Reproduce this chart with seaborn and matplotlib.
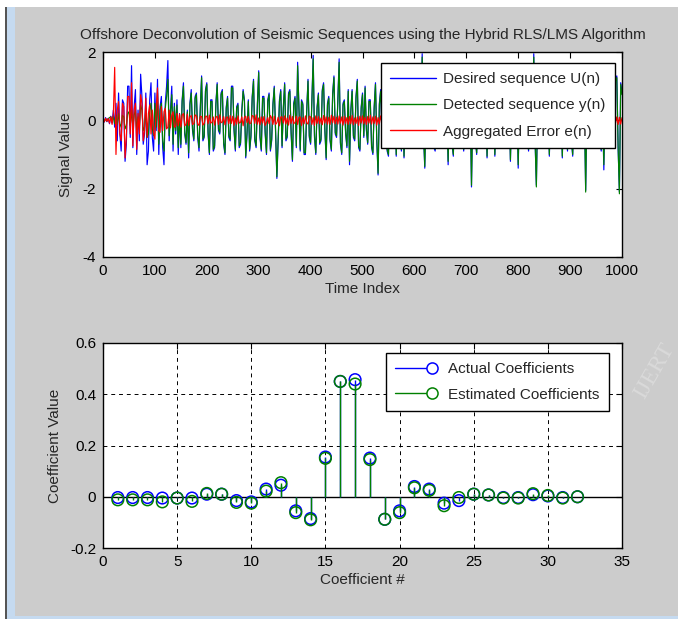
import numpy as np
import pandas as pd
import matplotlib
matplotlib.use("Agg")
import matplotlib.pyplot as plt
import matplotlib.font_manager as fm
from matplotlib.lines import Line2D
from matplotlib.legend_handler import HandlerBase
from matplotlib.patches import Rectangle
import seaborn as sns

# ---------------- data ----------------
time_step = 2.5
desired_u = [
    0.03, -0.05, 0.08, -0.04, 0.06, -0.1, 0.12, -0.08, 0.3, -0.2, 0.5, -0.6, 0.8, -0.4, -0.9, 0.6, 0.5, -1.2, -0.7, 1.0,
    1.0, -0.5, 1.6, -0.8, 0.4, 0.9, -1.0, 0.3, -0.6, 1.35, 0.7, -0.7, -0.4, 0.8, -1.3, -0.9, 0.6, 1.1, -0.5, -0.9,
    0.8, -0.3, 1.2, -1.0, 0.4, 0.7, -0.8, -1.3, 0.5, 1.0, 1.75, -0.6, 0.3, 1.0, -0.9, 0.5, -0.4, 0.6, -1.0, 0.2,
    -0.8, 0.6, 1.1, -0.4, -0.7, 0.3, -1.1, 0.5, 0.9, -0.3, -0.6, 0.7, 0.8, -0.5, -0.9, 0.4, 1.3, -0.6, -0.5, 0.9,
    1.1, -0.4, -1.0, 0.6, 0.6, -0.9, -0.8, 0.5, 1.1, -0.3, -0.4, 0.8, 0.9, -0.7, -1.0, 0.4, 0.7, -0.5, -0.6, 1.0,
    1.0, -0.3, -0.9, 0.4, 0.5, -0.8, -0.7, 0.3, 0.9, 0.6, -1.1, -0.4, 0.6, -0.9, -0.5, 0.7, 1.2, -0.6, -0.8, 0.5,
    1.45, -0.5, -0.9, 0.7, 0.7, -0.4, -1.0, 0.6, 0.8, -0.9, -0.6, 0.5, 1.0, -0.3, -1.7, -0.6, 0.6, 0.9, -0.8, 0.4,
    1.1, -0.6, -0.5, 0.8, 0.9, -0.4, -1.2, 0.5, 0.7, -0.8, 1.7, 0.4, -0.9, 0.6, 0.5, -1.0, -1.0, 0.3, 1.2, -0.5,
    -0.7, 0.6, 1.9, -0.5, -1.0, 0.4, 0.8, -0.7, -0.6, 0.9, 1.1, -0.3, -1.15, 0.5, 0.7, -0.6, -0.9, 0.8, 1.3, -0.4,
    -0.5, 0.6, 1.8, -0.7, -1.0, 0.5, 0.6, -0.4, -0.8, 0.9, -1.3, 0.3, 0.9, -0.5, -0.6, 0.7, 1.2, -0.8, -0.9, 0.4,
    0.8, -0.5, 1.0, -0.3, -0.7, 0.6, 0.6, -0.8, -1.0, 0.4, 1.1, -0.6, -1.6, 0.5, 0.9, -0.4, -0.7, 0.8, 1.2, -0.9,
    -1.05, 0.6, 0.8, -0.4, -0.6, 0.7, -1.05, 0.3, 1.0, -0.5, -0.9, 0.6, -1.1, 0.4, 0.7, -0.6, 1.3, -0.5, -0.8, 0.6,
    0.9, -0.5, -0.7, 0.4, 1.2, -0.6, 1.95, -0.4, -1.4, 0.5, 0.8, -0.3, -0.6, 0.7, 1.1, -0.8, -0.9, 0.5, 0.7, -0.4,
    -0.8, 0.6, 1.0, -0.5, -0.7, 0.4, -1.3, 0.6, 1.2, -0.7, -1.05, 0.5, 0.8, -0.6, -0.6, 0.7, 1.1, -0.5, -0.9, 0.6,
    0.7, -0.5, -0.8, 0.6, -1.95, 0.4, 1.0, -0.6, -1.0, 0.5, 0.8, -0.4, 1.2, -0.6, -0.7, 0.5, -1.1, 0.6, 0.9, -0.5,
    -0.6, 0.5, -1.05, 0.4, 1.1, -0.6, -0.8, 0.5, 0.6, -0.4, 1.0, -0.5, -0.7, 0.6, -1.2, 0.4, 0.9, -0.6, -0.8, 0.5,
    -1.4, 0.6, 1.1, -0.5, -0.7, 0.4, 0.8, -0.6, -0.9, 0.5, 1.2, -0.4, 1.95, -0.6, -1.9, 0.5, 0.7, -0.4, -0.6, 0.5,
    1.0, -0.5, -0.8, 0.6, -1.05, 0.4, 0.9, -0.6, -0.7, 0.5, 1.1, -0.4, -0.6, 0.5, -1.1, 0.6, 0.8, -0.5, -0.9, 0.4,
    1.0, -0.6, -1.05, 0.5, 0.7, -0.4, -0.8, 0.6, 1.2, -0.5, -0.6, 0.4, -2.05, 0.6, 0.9, -0.5, -0.7, 0.6, 1.1, -0.4,
    -0.8, 0.5, 0.6, -0.6, -0.9, 0.4, -1.45, 0.6, 1.0, -0.5, -0.7, 0.6, 0.9, -0.5, -0.6, 1.2, 1.3, -0.8, -2.1, 1.1,
    0.8,
]
detected_y = [
    0.02, -0.03, 0.05, -0.02, 0.04, 0.08, 0.1, -0.05, 0.12, -0.1, 0.15, -0.12, 0.2, -0.1, -0.2, 0.15, 0.1, -0.25, -0.15, 0.2,
    0.25, -0.15, 0.3, -0.2, 0.15, 0.3, -0.3, 0.1, -0.2, 0.45, 0.3, -0.3, -0.2, 0.35, -0.5, -0.4, 0.3, 0.5, -0.25, -0.45,
    0.5, -0.2, 0.8, -0.7, 0.3, 0.5, -0.6, -0.9, 0.35, 0.7, 1.2, -0.45, 0.2, 0.75, -0.7, 0.4, -0.3, 0.45, -0.8, 0.15,
    -0.7, 0.55, 1.0, -0.35, -0.65, 0.25, -0.95, 0.45, 0.8, -0.25, -0.55, 0.65, 0.75, -0.45, -0.8, 0.35, 1.25, -0.55, -0.45, 0.85,
    1.05, -0.35, -0.95, 0.55, 0.55, -0.85, -0.75, 0.45, 1.05, -0.25, -0.35, 0.75, 0.85, -0.65, -0.95, 0.35, 0.65, -0.45, -0.55, 0.95,
    0.95, -0.25, -0.85, 0.35, 0.45, -0.75, -0.65, 0.25, 0.85, 0.55, -1.05, -0.35, 0.55, -0.85, -0.45, 0.65, 1.15, -0.55, -0.75, 0.45,
    1.4, -0.45, -0.85, 0.65, 0.65, -0.35, -0.95, 0.55, 0.75, -0.85, -0.55, 0.45, 0.95, -0.25, -1.65, -0.55, 0.55, 0.85, -0.75, 0.35,
    1.05, -0.55, -0.45, 0.75, 0.85, -0.35, -1.15, 0.45, 0.65, -0.75, 1.6, 0.35, -0.85, 0.55, 0.45, -0.95, -0.95, 0.25, 1.15, -0.45,
    -0.65, 0.55, 1.8, -0.45, -0.95, 0.35, 0.75, -0.65, -0.55, 0.85, 1.05, -0.25, -1.1, 0.45, 0.65, -0.55, -0.85, 0.75, 1.25, -0.35,
    -0.45, 0.55, 1.7, -0.65, -0.95, 0.45, 0.55, -0.35, -0.75, 0.85, -1.2, 0.25, 0.85, -0.45, -0.55, 0.65, 1.15, -0.75, -0.85, 0.35,
    0.75, -0.45, 0.95, -0.25, -0.65, 0.55, 0.55, -0.75, -0.95, 0.35, 1.05, -0.55, -1.55, 0.45, 0.85, -0.35, -0.65, 0.75, 1.15, -0.85,
    -1.0, 0.55, 0.75, -0.35, -0.55, 0.65, -1.0, 0.25, 0.95, -0.45, -0.85, 0.55, -1.05, 0.35, 0.65, -0.55, 1.25, -0.45, -0.75, 0.55,
    0.85, -0.45, -0.65, 0.35, 1.15, -0.55, 1.85, -0.35, -1.35, 0.45, 0.75, -0.25, -0.55, 0.65, 1.05, -0.75, -0.85, 0.45, 0.65, -0.35,
    -0.75, 0.55, 0.95, -0.45, -0.65, 0.35, -1.2, 0.55, 1.15, -0.65, -1.0, 0.45, 0.75, -0.55, -0.55, 0.65, 1.05, -0.45, -0.85, 0.55,
    0.65, -0.45, -0.75, 0.55, -1.9, 0.35, 0.95, -0.55, -0.95, 0.45, 0.75, -0.35, 1.15, -0.55, -0.65, 0.45, -1.05, 0.55, 0.85, -0.45,
    -0.55, 0.45, -1.0, 0.35, 1.05, -0.55, -0.75, 0.45, 0.55, -0.35, 0.95, -0.45, -0.65, 0.55, -1.15, 0.35, 0.85, -0.55, -0.75, 0.45,
    -1.3, 0.55, 1.05, -0.45, -0.65, 0.35, 0.75, -0.55, -0.85, 0.45, 1.15, -0.35, 1.85, -0.55, -1.95, 0.45, 0.65, -0.35, -0.55, 0.45,
    0.95, -0.45, -0.75, 0.55, -1.0, 0.35, 0.85, -0.55, -0.65, 0.45, 1.05, -0.35, -0.55, 0.45, -1.05, 0.55, 0.75, -0.45, -0.85, 0.35,
    0.95, -0.55, -1.0, 0.45, 0.65, -0.35, -0.75, 0.55, 1.15, -0.45, -0.55, 0.35, -2.1, 0.55, 0.85, -0.45, -0.65, 0.55, 1.05, -0.35,
    -0.75, 0.45, 0.55, -0.55, -0.85, 0.35, -1.3, 0.55, 0.95, -0.45, -0.65, 0.55, 0.85, -0.45, -0.55, 1.15, 1.25, -0.75, -2.15, 1.05,
    0.75,
]
error_e = [
    0.02, -0.04, 0.06, -0.03, 0.05, -0.08, 0.1, -0.12, 0.2, 1.55, -1.0, 0.3, 0.55, -0.4, -0.6, 0.5, 0.4, -1.1, -0.5, 0.7,
    0.7, -0.4, 1.1, -0.75, 0.3, 0.5, -0.85, 0.2, -0.4, 0.75, 0.5, -0.6, -0.3, 0.65, -0.5, 0.2, 0.45, -0.4, 0.3, -0.35,
    -0.55, 0.3, 0.95, -0.3, -0.35, 0.4, -0.3, 0.25, 0.35, -0.25, -0.2, 0.3, -0.22, 0.15, 0.25, -0.2, -0.18, 0.2, -0.16, 0.18,
    -0.2, 0.15, 0.2, -0.16, -0.12, 0.18, -0.15, 0.1, 0.14, -0.12, -0.1, 0.16, 0.13, -0.11, -0.15, 0.12, 0.11, -0.14, -0.09, 0.12,
    0.12, -0.1, 0.15, -0.08, -0.06, 0.1, -0.14, 0.09, 0.12, -0.12, 0.16, -0.07, -0.05, 0.11, -0.13, 0.08, 0.1, -0.1, 0.14, -0.09,
    0.12, -0.15, 0.07, -0.11, 0.13, -0.08, -0.06, 0.1, -0.16, 0.09, 0.12, -0.07, 0.11, -0.1, -0.08, 0.14, 0.12, -0.09, 0.16, -0.11,
    0.07, -0.13, 0.1, -0.08, 0.11, -0.15, -0.06, 0.08, -0.1, 0.14, 0.07, -0.12, 0.12, -0.12, -0.07, 0.09, -0.16, 0.1, 0.1, -0.08,
    0.13, -0.11, 0.07, -0.14, 0.15, -0.09, 0.11, -0.1, -0.06, 0.12, -0.12, 0.09, 0.1, -0.15, 0.08, -0.1, 0.13, -0.07, -0.11, 0.12,
    0.1, -0.12, 0.08, -0.15, 0.13, -0.09, 0.11, -0.1, 0.07, -0.13, 0.14, -0.08, 0.1, -0.11, 0.09, -0.12, 0.15, -0.07, 0.12, -0.1,
    0.09, -0.11, 0.13, -0.08, 0.1, -0.14, 0.12, -0.09, 0.08, -0.12, 0.11, -0.1, 0.14, -0.13, 0.07, -0.09, 0.1, -0.15, 0.12, -0.08,
    0.13, -0.1, 0.09, -0.12, 0.11, -0.08, 0.15, -0.11, 0.1, -0.09, 0.12, -0.14, 0.08, -0.1, 0.13, -0.07, 0.11, -0.12, 0.09, -0.1,
    0.1, -0.13, 0.12, -0.08, 0.14, -0.1, 0.09, -0.11, 0.13, -0.09, 0.08, -0.12, 0.11, -0.1, 0.15, -0.08, 0.1, -0.12, 0.09, -0.11,
    0.12, -0.1, 0.15, -0.08, -0.06, 0.1, -0.14, 0.09, 0.12, -0.12, 0.16, -0.07, -0.05, 0.11, -0.13, 0.08, 0.1, -0.1, 0.14, -0.09,
    0.12, -0.15, 0.07, -0.11, 0.13, -0.08, -0.06, 0.1, -0.16, 0.09, 0.12, -0.07, 0.11, -0.1, -0.08, 0.14, 0.12, -0.09, 0.16, -0.11,
    0.07, -0.13, 0.1, -0.08, 0.11, -0.15, -0.06, 0.08, -0.1, 0.14, 0.07, -0.12, 0.12, -0.12, -0.07, 0.09, -0.16, 0.1, 0.1, -0.08,
    0.13, -0.11, 0.07, -0.14, 0.15, -0.09, 0.11, -0.1, -0.06, 0.12, -0.12, 0.09, 0.1, -0.15, 0.08, -0.1, 0.13, -0.07, -0.11, 0.12,
    0.1, -0.12, 0.08, -0.15, 0.13, -0.09, 0.11, -0.1, 0.07, -0.13, 0.14, -0.08, 0.1, -0.11, 0.09, -0.12, 0.15, -0.07, 0.12, -0.1,
    0.09, -0.11, 0.13, -0.08, 0.1, -0.14, 0.12, -0.09, 0.08, -0.12, 0.11, -0.1, 0.14, -0.13, 0.07, -0.09, 0.1, -0.15, 0.12, -0.08,
    0.13, -0.1, 0.09, -0.12, 0.11, -0.08, 0.15, -0.11, 0.1, -0.09, 0.12, -0.14, 0.08, -0.1, 0.13, -0.07, 0.11, -0.12, 0.09, -0.1,
    0.1, -0.13, 0.12, -0.08, 0.14, -0.1, 0.09, -0.11, 0.13, -0.09, 0.08, -0.12, 0.11, -0.1, 0.15, -0.08, 0.1, -0.12, 0.09, -0.11,
    0.08,
]
series_labels = ["Desired sequence U(n)", "Detected sequence y(n)", "Aggregated Error e(n)"]

coef_index = list(range(1, 33))
actual_coef = [-0.003, -0.003, -0.003, -0.005, -0.005, -0.005, 0.010, 0.010, -0.015, -0.020,
               0.030, 0.045, -0.055, -0.085, 0.155, 0.450, 0.457, 0.151, -0.088, -0.055,
               0.040, 0.030, -0.025, -0.015, 0.010, 0.007, -0.003, -0.003, 0.008, 0.003,
               -0.003, 0.000]
estimated_coef = [-0.012, -0.012, -0.012, -0.020, -0.005, -0.018, 0.013, 0.010, -0.022, -0.025,
                  0.022, 0.055, -0.062, -0.090, 0.150, 0.450, 0.440, 0.145, -0.088, -0.062,
                  0.035, 0.025, -0.035, -0.003, 0.010, 0.007, -0.005, -0.005, 0.012, 0.005,
                  -0.005, 0.000]
coef_labels = ["Actual Coefficients", "Estimated Coefficients"]

top_xticks = [0, 100, 200, 300, 400, 500, 600, 700, 800, 900, 1000]
top_yticks = [-4, -2, 0, 2]
top_yticklabels = ["-4", "-2", "0", "2"]
bot_xticks = [0, 5, 10, 15, 20, 25, 30, 35]
bot_yticks = [-0.2, 0, 0.2, 0.4, 0.6]
bot_yticklabels = ["-0.2", "0", "0.2", "0.4", "0.6"]

assert len(desired_u) == len(detected_y) == len(error_e)

# ---------------- style ----------------
sns.set_style("white")
names = {f.name for f in fm.fontManager.ttflist}
if "Liberation Sans Narrow" in names:
    FAM, FS = "Liberation Sans Narrow", 12.5
else:
    FAM, FS = "Liberation Sans", 11
plt.rcParams["font.family"] = [FAM, "DejaVu Sans"]
plt.rcParams["axes.unicode_minus"] = False

BLUE, GREEN, RED = "#0000ff", "#008000", "#ff0000"
BG = "#cccccc"

fig = plt.figure(figsize=(6.78, 6.19), dpi=100, facecolor=BG)

# window chrome
fig.patches.append(Rectangle((0, 1 - 7 / 619), 1, 7 / 619, transform=fig.transFigure,
                             facecolor="white", edgecolor="none", zorder=0))
fig.patches.append(Rectangle((0, 0), 5 / 678, 1, transform=fig.transFigure,
                             facecolor="white", edgecolor="none", zorder=0))
fig.patches.append(Rectangle((5 / 678, 0), 2 / 678, 1 - 7 / 619, transform=fig.transFigure,
                             facecolor="#555555", edgecolor="none", zorder=0))
fig.patches.append(Rectangle((7 / 678, 0), 8 / 678, 1 - 7 / 619, transform=fig.transFigure,
                             facecolor="#c5daf0", edgecolor="none", zorder=0))
fig.patches.append(Rectangle((7 / 678, 0), 1, 3 / 619, transform=fig.transFigure,
                             facecolor="#c5daf0", edgecolor="none", zorder=0))

W, H = 678, 619
ax1 = fig.add_axes([103 / W, 1 - 257 / H, 519 / W, 205 / H])
ax2 = fig.add_axes([103 / W, 1 - 548 / H, 519 / W, 205 / H])

# watermark in the right margin
fig.text(0.965, 0.40, "IJERT", rotation=60, fontsize=17, family="Liberation Serif",
         color="#dadada", ha="center", va="center", zorder=1)

# ---------------- top plot ----------------
n = len(desired_u)
t = [i * time_step for i in range(n)]
df = pd.DataFrame({
    "time": t * 3,
    "value": desired_u + detected_y + error_e,
    "series": [series_labels[0]] * n + [series_labels[1]] * n + [series_labels[2]] * n,
})
sns.lineplot(data=df, x="time", y="value", hue="series", hue_order=series_labels,
             palette={series_labels[0]: BLUE, series_labels[1]: GREEN, series_labels[2]: RED},
             estimator=None, sort=False, linewidth=0.85, legend=False, ax=ax1)
ax1.set_xlim(0, 1000)
ax1.set_ylim(-4, 2)
ax1.set_xticks(top_xticks)
ax1.set_xticklabels([str(v) for v in top_xticks])
ax1.set_yticks(top_yticks)
ax1.set_yticklabels(top_yticklabels)
ax1.set_xlabel("Time Index", fontsize=FS, labelpad=3)
ax1.set_ylabel("Signal Value", fontsize=FS, labelpad=7)
ax1.set_title("Offshore Deconvolution of Seismic Sequences using the Hybrid RLS/LMS Algorithm",
              fontsize=FS, pad=9)
h1 = [Line2D([0], [0], color=c, lw=1) for c in (BLUE, GREEN, RED)]
leg1 = ax1.legend(h1, series_labels, loc="upper right", bbox_to_anchor=(0.9865, 0.946),
                  borderaxespad=0, fontsize=FS, frameon=True, fancybox=False,
                  edgecolor="black", framealpha=1, handlelength=3.0, handletextpad=0.5,
                  labelspacing=0.8, borderpad=0.6)
leg1.get_frame().set_linewidth(1.0)

# ---------------- bottom plot ----------------
ax2.grid(True, color="black", linestyle=(0, (4, 4)), linewidth=0.7)
ax2.set_axisbelow(True)
ax2.axhline(0, color="black", linewidth=1.0, zorder=2)
ax2.vlines(coef_index, 0, actual_coef, color=BLUE, linewidth=1.0, zorder=3)
sns.scatterplot(x=coef_index, y=actual_coef, marker="o", s=70, facecolor="none",
                edgecolor=BLUE, linewidth=1.1, ax=ax2, zorder=4)
ax2.vlines(coef_index, 0, estimated_coef, color=GREEN, linewidth=1.0, zorder=5)
sns.scatterplot(x=coef_index, y=estimated_coef, marker="o", s=70, facecolor="none",
                edgecolor=GREEN, linewidth=1.1, ax=ax2, zorder=6)
ax2.set_xlim(0, 35)
ax2.set_ylim(-0.2, 0.6)
ax2.set_xticks(bot_xticks)
ax2.set_xticklabels([str(v) for v in bot_xticks])
ax2.set_yticks(bot_yticks)
ax2.set_yticklabels(bot_yticklabels)
ax2.set_xlabel("Coefficient #", fontsize=FS, labelpad=3)
ax2.set_ylabel("Coefficient Value", fontsize=FS, labelpad=6)


class StemHandler(HandlerBase):
    def create_artists(self, legend, orig_handle, xdescent, ydescent, width, height,
                       fontsize, trans):
        y = height / 2 - ydescent
        x0, x1 = -xdescent, width - xdescent
        c = orig_handle.get_color()
        ln = Line2D([x0, x1], [y, y], color=c, lw=1.0, transform=trans)
        mk = Line2D([x1], [y], marker="o", ms=8, mfc="white", mec=c, mew=1.1,
                    ls="none", transform=trans)
        return [ln, mk]


h2 = [Line2D([0], [0], color=c) for c in (BLUE, GREEN)]
leg2 = ax2.legend(h2, coef_labels, loc="upper right", bbox_to_anchor=(0.975, 0.951),
                  borderaxespad=0, fontsize=FS, frameon=True, fancybox=False,
                  edgecolor="black", framealpha=1, handlelength=2.4, handletextpad=1.1,
                  labelspacing=0.75, borderpad=0.6,
                  handler_map={Line2D: StemHandler()})
leg2.get_frame().set_linewidth(1.0)
leg2.set_zorder(10)

for ax in (ax1, ax2):
    ax.set_facecolor("white")
    for s in ax.spines.values():
        s.set_color("black")
        s.set_linewidth(1.0)
        s.set_visible(True)
    ax.tick_params(direction="in", length=4, width=0.8, top=True, right=True,
                   labelsize=FS, colors="black", pad=5)

fig.savefig("out.png", dpi=100, facecolor=BG)
